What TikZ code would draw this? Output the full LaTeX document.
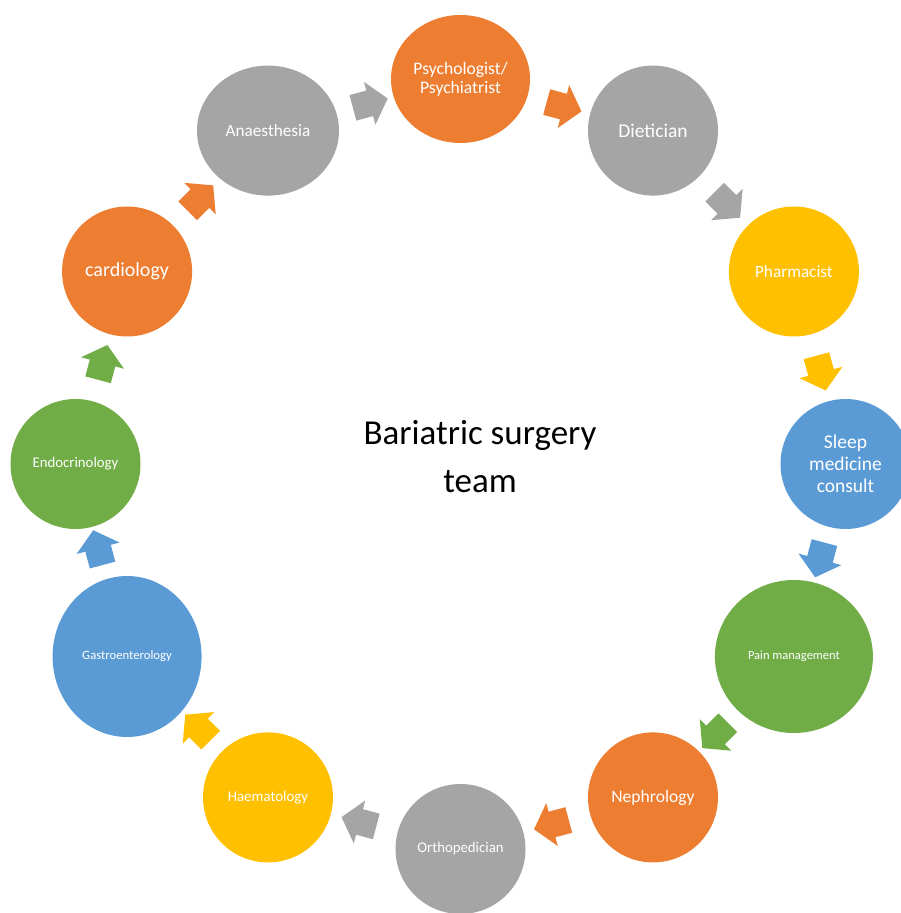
\documentclass[tikz,border=0pt]{standalone}
\usepackage{fontspec}
\setmainfont{Carlito}
\usepackage{tikz}
\usetikzlibrary{shapes.geometric,shapes.arrows}

\definecolor{accorange}{HTML}{ED7D31}
\definecolor{accgray}{HTML}{A5A5A5}
\definecolor{accgold}{HTML}{FFC000}
\definecolor{accblue}{HTML}{5B9BD5}
\definecolor{accgreen}{HTML}{70AD47}

\begin{document}
\begin{tikzpicture}[
    x=1pt, y=1pt,
    member/.style={
        ellipse,
        minimum width=130pt,
        minimum height=130pt,
        inner sep=0pt,
        align=center,
        text=white
    },
    turn/.style={
        single arrow,
        single arrow head extend=9pt,
        single arrow tip angle=100,
        minimum height=36pt,
        inner xsep=0pt,
        inner ysep=13pt,
        draw=none,
        midway,
        sloped,
        allow upside down
    }
]
\useasboundingbox (-460.5,-449) rectangle (440.5,464);

\node[member, fill=accorange, minimum width=139pt, minimum height=128pt, font=\fontsize{17.6}{19}\selectfont] (psych) at (90:385) {Psychologist/\\Psychiatrist};
\node[member, fill=accgray, font=\fontsize{19.5}{22}\selectfont] (diet) at (60:385) {Dietician};
\node[member, fill=accgold, font=\fontsize{17.2}{20}\selectfont] (pharm) at (30:385) {Pharmacist};
\node[member, fill=accblue, font=\fontsize{19.5}{21.7}\selectfont] (sleep) at (0:385) {Sleep\\medicine\\consult};
\node[member, fill=accgreen, minimum width=158pt, minimum height=153pt, font=\fontsize{12.5}{15}\selectfont] (pain) at (-30:385) {Pain management};
\node[member, fill=accorange, font=\fontsize{17.6}{20}\selectfont] (nephro) at (-60:385) {Nephrology};
\node[member, fill=accgray, font=\fontsize{14.8}{17}\selectfont] (ortho) at (-90:385) {Orthopedician};
\node[member, fill=accgold, font=\fontsize{14.9}{17}\selectfont] (haem) at (-120:385) {Haematology};
\node[member, fill=accblue, minimum width=149pt, minimum height=161pt, font=\fontsize{12.7}{15}\selectfont] (gastro) at (-150:385) {Gastroenterology};
\node[member, fill=accgreen, font=\fontsize{14.8}{17}\selectfont] (endo) at (180:385) {Endocrinology};
\node[member, fill=accorange, font=\fontsize{20}{23}\selectfont] (cardio) at (150:385) {cardiology};
\node[member, fill=accgray, minimum width=142pt, font=\fontsize{17.2}{20}\selectfont] (anaes) at (120:385) {Anaesthesia};

\node[align=center, font=\fontsize{35}{48}\selectfont] (team) at (19.5,7) {Bariatric surgery\\team};

\path (psych) -- node[turn, fill=accorange] {} (diet);
\path (diet) -- node[turn, fill=accgray] {} (pharm);
\path (pharm) -- node[turn, fill=accgold] {} (sleep);
\path (sleep) -- node[turn, fill=accblue] {} (pain);
\path (pain) -- node[turn, fill=accgreen] {} (nephro);
\path (nephro) -- node[turn, fill=accorange] {} (ortho);
\path (ortho) -- node[turn, fill=accgray] {} (haem);
\path (haem) -- node[turn, fill=accgold] {} (gastro);
\path (gastro) -- node[turn, fill=accblue] {} (endo);
\path (endo) -- node[turn, fill=accgreen] {} (cardio);
\path (cardio) -- node[turn, fill=accorange] {} (anaes);
\path (anaes) -- node[turn, fill=accgray] {} (psych);
\end{tikzpicture}
\end{document}
